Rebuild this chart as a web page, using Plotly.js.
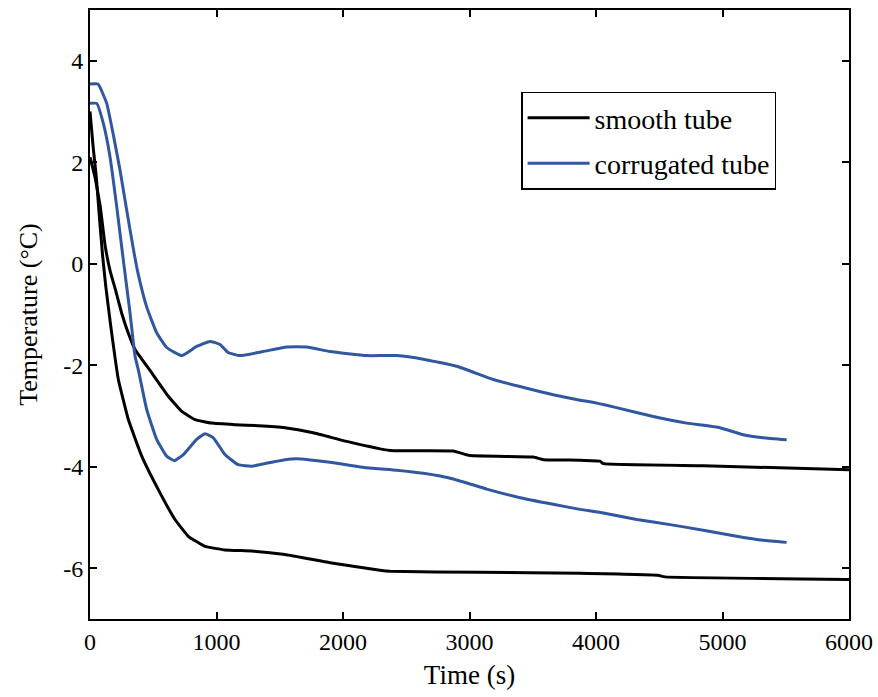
<!DOCTYPE html>
<html>
<head>
<meta charset="utf-8">
<script src="https://cdn.plot.ly/plotly-3.0.1.min.js"></script>
<style>html,body{margin:0;padding:0;background:#fff;}#chart{width:878px;height:697px;}</style>
</head>
<body>
<div id="chart"></div>
<script>
// Smooth tube, upper curve
const smoothUpperTime = [0, 40, 80, 120, 160, 200, 250, 300, 356, 488, 619, 725, 830, 962, 1146, 1330, 1542, 1765, 2029, 2372, 2872, 3004, 3504, 3583, 3874, 4032, 4058, 4848, 6000];
const smoothUpperTemp = [2.1, 1.7, 1.15, 0.35, -0.15, -0.5, -0.97, -1.35, -1.69, -2.15, -2.61, -2.91, -3.07, -3.14, -3.17, -3.19, -3.23, -3.33, -3.50, -3.68, -3.69, -3.78, -3.81, -3.86, -3.87, -3.89, -3.94, -3.98, -4.06];
// Smooth tube, lower curve
const smoothLowerTime = [0, 25, 50, 75, 100, 125, 160, 224, 303, 409, 540, 672, 777, 909, 1067, 1278, 1542, 1897, 2292, 2372, 3083, 3874, 4490, 4545, 6000];
const smoothLowerTemp = [3.0, 2.3, 1.7, 0.9, 0.15, -0.45, -1.15, -2.28, -3.07, -3.79, -4.45, -5.04, -5.37, -5.57, -5.64, -5.66, -5.73, -5.89, -6.04, -6.06, -6.08, -6.10, -6.14, -6.17, -6.22];
// Corrugated tube, upper curve
const corrUpperTime = [0, 63, 132, 182, 237, 290, 340, 379, 448, 527, 606, 725, 843, 949, 1028, 1091, 1186, 1368, 1555, 1713, 1897, 2187, 2424, 2635, 2899, 3188, 3399, 3662, 3874, 3953, 4137, 4453, 4717, 4980, 5164, 5322, 5507];
const corrUpperTemp = [3.54, 3.54, 3.16, 2.57, 1.85, 1.06, 0.33, -0.18, -0.85, -1.36, -1.65, -1.81, -1.63, -1.53, -1.59, -1.75, -1.81, -1.73, -1.64, -1.64, -1.73, -1.81, -1.81, -1.88, -2.02, -2.28, -2.42, -2.58, -2.69, -2.72, -2.82, -3.01, -3.14, -3.23, -3.37, -3.43, -3.47];
// Corrugated tube, lower curve
const corrLowerTime = [0, 53, 105, 158, 211, 263, 316, 356, 382, 448, 527, 606, 666, 738, 843, 909, 975, 1067, 1172, 1278, 1436, 1542, 1634, 1897, 2187, 2424, 2635, 2872, 3136, 3399, 3662, 3874, 4058, 4322, 4585, 4848, 5112, 5322, 5507];
const corrLowerTemp = [3.16, 3.16, 2.77, 2.11, 1.13, 0.08, -0.96, -1.82, -2.09, -2.87, -3.46, -3.79, -3.88, -3.76, -3.46, -3.35, -3.43, -3.76, -3.96, -3.99, -3.91, -3.86, -3.84, -3.91, -4.02, -4.07, -4.13, -4.24, -4.44, -4.61, -4.74, -4.84, -4.91, -5.04, -5.14, -5.25, -5.37, -5.45, -5.49];

const seriesNames = ["smooth tube", "corrugated tube"];
const xTickVals = [0, 1000, 2000, 3000, 4000, 5000, 6000];
const xTickText = ["0", "1000", "2000", "3000", "4000", "5000", "6000"];
const yTickVals = [-6, -4, -2, 0, 2, 4];
const yTickText = ["-6", "-4", "-2", "0", "2", "4"];

const BLACK = "#000000";
const BLUE = "#3057A0";
const FONT = "Times New Roman";

const traces = [
  {x: smoothUpperTime, y: smoothUpperTemp, mode: "lines", name: seriesNames[0], legendgroup: "g1", showlegend: true,
   line: {color: BLACK, width: 3, shape: "spline", smoothing: 0.3}},
  {x: smoothLowerTime, y: smoothLowerTemp, mode: "lines", name: seriesNames[0], legendgroup: "g1", showlegend: false,
   line: {color: BLACK, width: 3, shape: "spline", smoothing: 0.3}},
  {x: corrUpperTime, y: corrUpperTemp, mode: "lines", name: seriesNames[1], legendgroup: "g2", showlegend: true,
   line: {color: BLUE, width: 3, shape: "spline", smoothing: 0.4}},
  {x: corrLowerTime, y: corrLowerTemp, mode: "lines", name: seriesNames[1], legendgroup: "g2", showlegend: false,
   line: {color: BLUE, width: 3, shape: "spline", smoothing: 0.4}}
];

const axisCommon = {
  showgrid: false, zeroline: false, showline: true, linecolor: "#000", linewidth: 2,
  mirror: "ticks", ticks: "inside", ticklen: 7, tickwidth: 2, tickcolor: "#000",
  tickfont: {family: FONT, size: 24, color: "#000"}
};

const layout = {
  width: 878, height: 697,
  margin: {l: 90, r: 29, t: 10, b: 78},
  paper_bgcolor: "#fff", plot_bgcolor: "#fff",
  font: {family: FONT, color: "#000"},
  xaxis: Object.assign({}, axisCommon, {
    range: [0, 6000], tickmode: "array", tickvals: xTickVals, ticktext: xTickText,
    title: {text: "Time (s)", font: {family: FONT, size: 27, color: "#000"}, standoff: 11}
  }),
  yaxis: Object.assign({}, axisCommon, {
    range: [-7, 5], tickmode: "array", tickvals: yTickVals, ticktext: yTickText,
    title: {text: "Temperature (°C)", font: {family: FONT, size: 26, color: "#000"}, standoff: 18}
  }),
  legend: {
    x: 0.568, y: 0.866, xanchor: "left", yanchor: "top",
    bordercolor: "#000", borderwidth: 1.5, bgcolor: "#fff",
    font: {family: FONT, size: 28, color: "#000"},
    itemwidth: 62,
    tracegroupgap: 6, traceorder: "grouped"
  },
  showlegend: true
};

Plotly.newPlot("chart", traces, layout, {displayModeBar: false, staticPlot: true});
</script>
</body>
</html>
